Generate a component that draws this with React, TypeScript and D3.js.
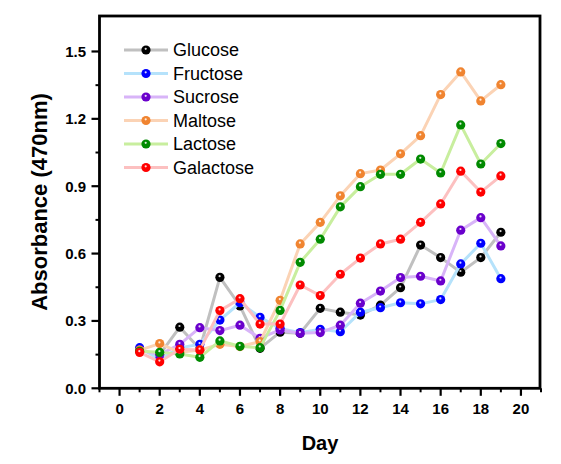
import React from "react";
import * as d3 from "d3";

const days = [1, 2, 3, 4, 5, 6, 7, 8, 9, 10, 11, 12, 13, 14, 15, 16, 17, 18, 19];
const glucose = [0.17, 0.15, 0.272, 0.175, 0.494, 0.367, 0.178, 0.25, 0.245, 0.356, 0.339, 0.326, 0.37, 0.448, 0.638, 0.582, 0.517, 0.582, 0.695];
const fructose = [0.181, 0.129, 0.18, 0.196, 0.304, 0.381, 0.316, 0.267, 0.248, 0.263, 0.252, 0.339, 0.359, 0.381, 0.376, 0.395, 0.554, 0.646, 0.488];
const sucrose = [0.17, 0.15, 0.196, 0.27, 0.257, 0.281, 0.223, 0.26, 0.245, 0.248, 0.281, 0.379, 0.433, 0.493, 0.499, 0.478, 0.704, 0.76, 0.634];
const maltose = [0.17, 0.199, 0.16, 0.17, 0.196, 0.186, 0.208, 0.392, 0.643, 0.739, 0.857, 0.956, 0.972, 1.044, 1.125, 1.308, 1.409, 1.28, 1.352];
const lactose = [0.165, 0.16, 0.153, 0.138, 0.211, 0.187, 0.181, 0.347, 0.561, 0.664, 0.808, 0.898, 0.953, 0.953, 1.021, 0.959, 1.173, 0.999, 1.09];
const galactose = [0.16, 0.118, 0.174, 0.171, 0.346, 0.399, 0.286, 0.286, 0.46, 0.413, 0.508, 0.58, 0.643, 0.664, 0.739, 0.821, 0.967, 0.874, 0.946];

const seriesNames = ["Glucose", "Fructose", "Sucrose", "Maltose", "Lactose", "Galactose"];
const seriesValues = [glucose, fructose, sucrose, maltose, lactose, galactose];
const lineColors = ["#c0c0c0", "#b5e2fb", "#d8b4f8", "#fbd3b5", "#c8ee9e", "#fcc0c0"];
const markerColors = ["#000000", "#0000ff", "#6a00cc", "#f08430", "#008a00", "#ff0000"];

const xTicksMajor = [0, 2, 4, 6, 8, 10, 12, 14, 16, 18, 20];
const xTicksMinor = [-1, 1, 3, 5, 7, 9, 11, 13, 15, 17, 19, 21];
const yTicksMajor = [0, 0.3, 0.6, 0.9, 1.2, 1.5];
const yTicksMinor = [0.15, 0.45, 0.75, 1.05, 1.35];

const L = 99.5, R = 540, T = 16, B = 388.3;

export default function App() {
  const x = d3.scaleLinear().domain([-1, 21]).range([L, R + 1]);
  const y = d3.scaleLinear().domain([0, 1.658]).range([B, T]);
  const line = d3.line<number>().x((_, i) => x(days[i])).y((d) => y(d));
  const font = "'Liberation Sans', Arial, sans-serif";

  const marker = (cx: number, cy: number, c: string, key: string) => (
    <g key={key}>
      <circle cx={cx} cy={cy} r={4.6} fill={c} />
      <circle cx={cx - 0.3} cy={cy - 1.2} r={1.1} fill="#ffffff" opacity={0.85} />
    </g>
  );

  return (
    <svg width={561} height={464} style={{ position: "absolute", left: 0, top: 0, background: "#fff" }} fontFamily={font}>
      <rect x={0} y={0} width={561} height={464} fill="#fff" />
      {/* series */}
      {seriesValues.map((vals, si) => (
        <g key={seriesNames[si]}>
          <path d={line(vals) || ""} fill="none" stroke={lineColors[si]} strokeWidth={3} strokeLinejoin="round" />
          {vals.map((v, i) => marker(x(days[i]), y(v), markerColors[si], `${si}-${i}`))}
        </g>
      ))}
      {/* frame */}
      <rect x={L} y={T} width={R - L} height={B - T} fill="none" stroke="#000" strokeWidth={2.8} />
      {/* x ticks */}
      {xTicksMajor.map((t) => (
        <g key={"xm" + t}>
          <line x1={x(t)} x2={x(t)} y1={B} y2={B + 7.5} stroke="#000" strokeWidth={2.2} />
          <text x={x(t)} y={414} textAnchor="middle" fontSize={15} fontWeight="bold">{t}</text>
        </g>
      ))}
      {xTicksMinor.map((t) => (
        <line key={"xn" + t} x1={x(t)} x2={x(t)} y1={B} y2={B + 4} stroke="#000" strokeWidth={2} />
      ))}
      {/* y ticks */}
      {yTicksMajor.map((t) => (
        <g key={"ym" + t}>
          <line x1={L} x2={L - 8} y1={y(t)} y2={y(t)} stroke="#000" strokeWidth={2.2} />
          <text x={86} y={y(t) + 5.3} textAnchor="end" fontSize={15} fontWeight="bold">{t.toFixed(1)}</text>
        </g>
      ))}
      {yTicksMinor.map((t) => (
        <line key={"yn" + t} x1={L} x2={L - 4} y1={y(t)} y2={y(t)} stroke="#000" strokeWidth={2} />
      ))}
      {/* axis titles */}
      <text x={320} y={450} textAnchor="middle" fontSize={20} fontWeight="bold">Day</text>
      <text transform={`translate(47,202) rotate(-90)`} textAnchor="middle" fontSize={22} fontWeight="bold">Absorbance (470nm)</text>
      {/* legend */}
      {seriesNames.map((n, i) => {
        const ly = 50 + i * 23.5;
        return (
          <g key={"lg" + n}>
            <line x1={124} x2={168} y1={ly} y2={ly} stroke={lineColors[i]} strokeWidth={3} />
            {marker(146, ly, markerColors[i], "lgm" + i)}
            <text x={173} y={ly + 6.3} fontSize={18}>{n}</text>
          </g>
        );
      })}
    </svg>
  );
}
